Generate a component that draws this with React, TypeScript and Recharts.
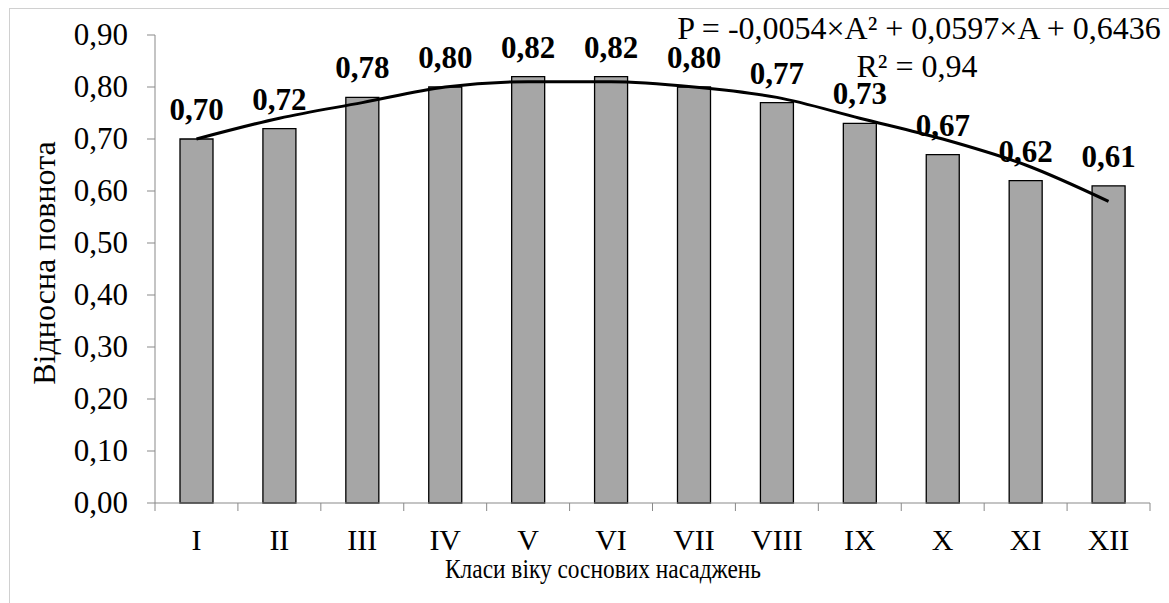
import { ComposedChart, Bar, Line, XAxis, YAxis, LabelList, Customized } from 'recharts'

const categories = ['I', 'II', 'III', 'IV', 'V', 'VI', 'VII', 'VIII', 'IX', 'X', 'XI', 'XII']
const density = [0.7, 0.72, 0.78, 0.8, 0.82, 0.82, 0.8, 0.77, 0.73, 0.67, 0.62, 0.61]
// trend curve at each class centre
const trend = [0.7, 0.74, 0.77, 0.8, 0.81, 0.81, 0.8, 0.78, 0.74, 0.7, 0.65, 0.58]
const yTicks = [0, 0.1, 0.2, 0.3, 0.4, 0.5, 0.6, 0.7, 0.8, 0.9]

const equation = 'P = -0,0054×A² + 0,0597×A + 0,6436'
const rSquared = 'R² = 0,94'
const xTitle = 'Класи віку соснових насаджень'
const yTitle = 'Відносна повнота'

const data = categories.map((name, i) => ({ name, value: density[i], trend: trend[i] }))

const FONT = '"Liberation Serif", "Times New Roman", serif'
const W = 1169
const H = 603
const MARGIN = { top: 35, right: 19, bottom: 0, left: 0 }
const Y_AXIS_W = 155
const BAND = (W - MARGIN.right - Y_AXIS_W) / categories.length
const AXIS = '#898989'

function fmt(v: number) {
  return v.toFixed(2).replace('.', ',')
}

function XTick({ x, y, payload, index }: any) {
  const left = x - BAND / 2
  return (
    <g>
      <line x1={left} y1={y} x2={left} y2={y + 8} stroke={AXIS} />
      {index === categories.length - 1 && (
        <line x1={x + BAND / 2} y1={y} x2={x + BAND / 2} y2={y + 8} stroke={AXIS} />
      )}
      <text x={x} y={y + 47} textAnchor="middle" fill="#000" style={{ fontFamily: FONT, fontSize: 30 }}>
        {payload.value}
      </text>
    </g>
  )
}

function YTick({ x, y, payload }: any) {
  return (
    <text x={x} y={y + 10} textAnchor="end" fill="#000" style={{ fontFamily: FONT, fontSize: 31 }}>
      {fmt(payload.value)}
    </text>
  )
}

function BarLabel({ x, y, width, value }: any) {
  return (
    <text x={x + width / 2} y={y - 19} textAnchor="middle" fill="#000" style={{ fontFamily: FONT, fontSize: 31, fontWeight: 'bold' }}>
      {fmt(value)}
    </text>
  )
}

function Annotations() {
  return (
    <g fill="#000" style={{ fontFamily: FONT }}>
      <text x={919} y={39} textAnchor="middle" style={{ fontFamily: FONT, fontSize: 32 }}>{equation}</text>
      <text x={917} y={77} textAnchor="middle" style={{ fontFamily: FONT, fontSize: 32 }}>{rSquared}</text>
      <text x={603} y={578} textAnchor="middle" textLength={316} lengthAdjust="spacingAndGlyphs" style={{ fontFamily: FONT, fontSize: 28 }}>
        {xTitle}
      </text>
      <text x={55} y={263} textAnchor="middle" transform="rotate(-90 55 263)" style={{ fontFamily: FONT, fontSize: 32 }}>
        {yTitle}
      </text>
    </g>
  )
}

export default function App() {
  return (
    <div style={{ position: 'absolute', left: 0, top: 0, width: W, height: H, overflow: 'hidden', background: '#fff', fontFamily: FONT }}>
      <div style={{ position: 'absolute', left: 9, top: 8, width: 1300, height: 700, border: '1px solid #d0d0d0' }} />
      <ComposedChart width={W} height={H} data={data} margin={MARGIN} style={{ fontFamily: FONT }}>
        <XAxis
          dataKey="name"
          height={100}
          axisLine={{ stroke: AXIS }}
          tickLine={false}
          tickSize={0}
          tickMargin={0}
          interval={0}
          tick={<XTick />}
        />
        <YAxis
          width={Y_AXIS_W}
          domain={[0, 0.9]}
          ticks={yTicks}
          interval={0}
          axisLine={{ stroke: AXIS }}
          tickLine={{ stroke: AXIS }}
          tickSize={8}
          tickMargin={19}
          tick={<YTick />}
        />
        <Bar dataKey="value" barSize={33} fill="#a6a6a6" stroke="#000" strokeWidth={1.3} isAnimationActive={false}>
          <LabelList dataKey="value" content={<BarLabel />} />
        </Bar>
        <Line dataKey="trend" type="monotone" stroke="#000" strokeWidth={3} dot={false} isAnimationActive={false} />
        <Customized component={Annotations} />
      </ComposedChart>
    </div>
  )
}
